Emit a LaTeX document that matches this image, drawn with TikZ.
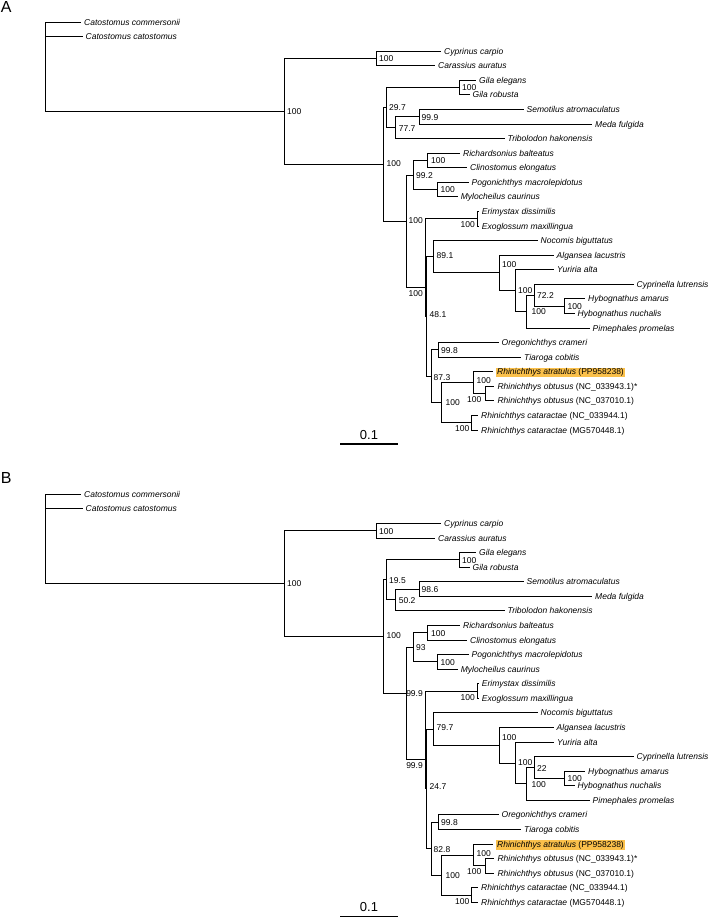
\documentclass[tikz,border=0pt]{standalone}
\usepackage{fontspec}
\setmainfont{Liberation Sans}
\definecolor{hl}{RGB}{250,192,75}
\tikzset{
  br/.style={line width=0.9pt, black},
  taxon/.style={anchor=base west, inner sep=0pt, xshift=3pt, yshift=-3.1pt, font=\fontsize{8.5}{10}\selectfont\itshape},
  hltaxon/.style={taxon, fill=hl, inner xsep=1pt, inner ysep=0.8pt, text height=6.4pt, text depth=1.8pt, xshift=-0.3pt},
  bsl/.style={anchor=west, inner sep=0pt, font=\fontsize{8.5}{10}\selectfont},
  bsr/.style={anchor=east, inner sep=0pt, font=\fontsize{8.5}{10}\selectfont},
  scalelab/.style={anchor=base, inner sep=0pt, font=\fontsize{13}{15}\selectfont},
  panel/.style={anchor=base west, inner sep=0pt, font=\fontsize{16}{18}\selectfont},
}
\newcommand\fishtree{%
  % internal nodes
  \coordinate (r0) at (45.7,66);
  \coordinate (n1) at (284,111.44);
  \coordinate (n2) at (376,58.43);
  \coordinate (n3) at (383.3,164.45);
  \coordinate (n4) at (386.7,107.6);
  \coordinate (g) at (459,87.57);
  \coordinate (n77) at (395.7,127.64);
  \coordinate (n999) at (419.3,116.71);
  \coordinate (n5) at (406.7,221.3);
  \coordinate (n992) at (413.3,175.0);
  \coordinate (rc) at (427.7,160.43);
  \coordinate (pm) at (437.3,189.57);
  \coordinate (n6) at (425,287);
  \coordinate (e) at (477.7,218.71);
  \coordinate (w) at (426.7,316.5);
  \coordinate (n89) at (433.3,256.74);
  \coordinate (r) at (499.3,272.9);
  \coordinate (q) at (515,290.66);
  \coordinate (p) at (526.7,311.61);
  \coordinate (n72) at (534.3,295.21);
  \coordinate (hy) at (564.3,306.14);
  \coordinate (n87) at (431.7,376.27);
  \coordinate (n998) at (438.3,349.86);
  \coordinate (s) at (441.7,402.68);
  \coordinate (t) at (473.3,382.64);
  \coordinate (v) at (485,393.57);
  \coordinate (u) at (471.7,422.71);
  % tip ends
  \coordinate (e1) at (81,22.0);
  \coordinate (e2) at (82.5,36.57);
  \coordinate (e3) at (441,51.14);
  \coordinate (e4) at (435,65.71);
  \coordinate (e5) at (476,80.29);
  \coordinate (e6) at (469.5,94.86);
  \coordinate (e7) at (523.5,109.43);
  \coordinate (e8) at (592,124.0);
  \coordinate (e9) at (504.5,138.57);
  \coordinate (e10) at (460,153.14);
  \coordinate (e11) at (467,167.71);
  \coordinate (e12) at (468.5,182.29);
  \coordinate (e13) at (457.7,196.86);
  \coordinate (e14) at (478.7,211.43);
  \coordinate (e15) at (478.7,226.0);
  \coordinate (e16) at (537.5,240.57);
  \coordinate (e17) at (553.5,255.14);
  \coordinate (e18) at (554,269.71);
  \coordinate (e19) at (633.5,284.29);
  \coordinate (e20) at (585,298.86);
  \coordinate (e21) at (574.5,313.43);
  \coordinate (e22) at (589.5,328.0);
  \coordinate (e23) at (498.5,342.57);
  \coordinate (e24) at (521,357.14);
  \coordinate (e25) at (493.3,371.71);
  \coordinate (e26) at (494.3,386.29);
  \coordinate (e27) at (494.3,400.86);
  \coordinate (e28) at (478,415.43);
  \coordinate (e29) at (478,430.0);
  % branches
  \draw[br] (r0) |- (e1); \draw[br] (r0) |- (e2); \draw[br] (r0) |- (n1);
  \draw[br] (n1) |- (n2); \draw[br] (n1) |- (n3);
  \draw[br] (n2) |- (e3); \draw[br] (n2) |- (e4);
  \draw[br] (n3) |- (n4); \draw[br] (n3) |- (n5);
  \draw[br] (n4) |- (g); \draw[br] (n4) |- (n77);
  \draw[br] (g) |- (e5); \draw[br] (g) |- (e6);
  \draw[br] (n77) |- (n999); \draw[br] (n77) |- (e9);
  \draw[br] (n999) |- (e7); \draw[br] (n999) |- (e8);
  \draw[br] (n5) |- (n992); \draw[br] (n5) |- (n6);
  \draw[br] (n992) |- (rc); \draw[br] (n992) |- (pm);
  \draw[br] (rc) |- (e10); \draw[br] (rc) |- (e11);
  \draw[br] (pm) |- (e12); \draw[br] (pm) |- (e13);
  \draw[br] (n6) |- (e); \draw[br] (n6) |- (w);
  \draw[br] (e) |- (e14); \draw[br] (e) |- (e15);
  \draw[br] (w) |- (n89); \draw[br] (w) |- (n87);
  \draw[br] (n89) |- (e16); \draw[br] (n89) |- (r);
  \draw[br] (r) |- (e17); \draw[br] (r) |- (q);
  \draw[br] (q) |- (e18); \draw[br] (q) |- (p);
  \draw[br] (p) |- (n72); \draw[br] (p) |- (e22);
  \draw[br] (n72) |- (e19); \draw[br] (n72) |- (hy);
  \draw[br] (hy) |- (e20); \draw[br] (hy) |- (e21);
  \draw[br] (n87) |- (n998); \draw[br] (n87) |- (s);
  \draw[br] (n998) |- (e23); \draw[br] (n998) |- (e24);
  \draw[br] (s) |- (t); \draw[br] (s) |- (u);
  \draw[br] (t) |- (e25); \draw[br] (t) |- (v);
  \draw[br] (v) |- (e26); \draw[br] (v) |- (e27);
  \draw[br] (u) |- (e28); \draw[br] (u) |- (e29);
  % taxa
  \node[taxon] (t1) at (e1) {Catostomus commersonii};
  \node[taxon] (t2) at (e2) {Catostomus catostomus};
  \node[taxon] (t3) at (e3) {Cyprinus carpio};
  \node[taxon] (t4) at (e4) {Carassius auratus};
  \node[taxon] (t5) at (e5) {Gila elegans};
  \node[taxon] (t6) at (e6) {Gila robusta};
  \node[taxon] (t7) at (e7) {Semotilus atromaculatus};
  \node[taxon] (t8) at (e8) {Meda fulgida};
  \node[taxon] (t9) at (e9) {Tribolodon hakonensis};
  \node[taxon] (t10) at (e10) {Richardsonius balteatus};
  \node[taxon] (t11) at (e11) {Clinostomus elongatus};
  \node[taxon] (t12) at (e12) {Pogonichthys macrolepidotus};
  \node[taxon] (t13) at (e13) {Mylocheilus caurinus};
  \node[taxon] (t14) at (e14) {Erimystax dissimilis};
  \node[taxon] (t15) at (e15) {Exoglossum maxillingua};
  \node[taxon] (t16) at (e16) {Nocomis biguttatus};
  \node[taxon] (t17) at (e17) {Algansea lacustris};
  \node[taxon] (t18) at (e18) {Yuriria alta};
  \node[taxon] (t19) at (e19) {Cyprinella lutrensis};
  \node[taxon] (t20) at (e20) {Hybognathus amarus};
  \node[taxon] (t21) at (e21) {Hybognathus nuchalis};
  \node[taxon] (t22) at (e22) {Pimephales promelas};
  \node[taxon] (t23) at (e23) {Oregonichthys crameri};
  \node[taxon] (t24) at (e24) {Tiaroga cobitis};
  \node[hltaxon] (t25) at (e25) {Rhinichthys atratulus \textup{(PP958238)}};
  \node[taxon] (t26) at (e26) {Rhinichthys obtusus \textup{(NC\_033943.1)*}};
  \node[taxon] (t27) at (e27) {Rhinichthys obtusus \textup{(NC\_037010.1)}};
  \node[taxon] (t28) at (e28) {Rhinichthys cataractae \textup{(NC\_033944.1)}};
  \node[taxon] (t29) at (e29) {Rhinichthys cataractae \textup{(MG570448.1)}};
  % support values
  \node[bsl] (l1) at (287,111.4) {100};
  \node[bsl] (l2) at (379,59) {100};
  \node[bsl] (l3) at (386.5,163.5) {100};
  \node[bsl] (l4) at (389,108) {\svFour};
  \node[bsl] (lg) at (462,88) {100};
  \node[bsl] (l77) at (398.7,128.5) {\svSeven};
  \node[bsl] (l999) at (421.5,117.5) {\svNine};
  \node[bsr] (l5) at (423,221) {\svFive};
  \node[bsl] (l992) at (416,175.5) {\svTwo};
  \node[bsl] (lrc) at (431,161) {100};
  \node[bsl] (lpm) at (440.5,190) {100};
  \node[bsr] (l6) at (423,293.5) {\svSix};
  \node[bsr] (le) at (475,225) {100};
  \node[bsl] (lw) at (429.5,314.5) {\svW};
  \node[bsl] (l89) at (436.5,255.5) {\svEight};
  \node[bsl] (lr) at (502,265) {100};
  \node[bsl] (lq) at (518,290.5) {100};
  \node[bsl] (lp) at (531.5,312) {100};
  \node[bsl] (l72) at (537,296) {\svSeventy};
  \node[bsl] (lhy) at (567.5,306.5) {100};
  \node[bsl] (l87) at (433.5,377.5) {\svEightySeven};
  \node[bsl] (l998) at (441,350.5) {99.8};
  \node[bsl] (ls) at (445.5,403) {100};
  \node[bsl] (lt) at (476.5,381) {100};
  \node[bsr] (lv) at (481.5,399.5) {100};
  \node[bsr] (lu) at (469.5,429) {100};
  % scale bar
  \coordinate (sb1) at (340,444);
  \coordinate (sb2) at (398,444);
  \draw[line width=1.1pt] (sb1) -- (sb2);
  \node[scalelab] (sbl) at (369,439.3) {0.1};
}
\newcommand\svFour{29.7}
\newcommand\svSeven{77.7}
\newcommand\svNine{99.9}
\newcommand\svFive{100}
\newcommand\svTwo{99.2}
\newcommand\svSix{100}
\newcommand\svW{48.1}
\newcommand\svEight{89.1}
\newcommand\svSeventy{72.2}
\newcommand\svEightySeven{87.3}
\begin{document}
\begin{tikzpicture}[x=1pt,y=-1pt]
  \fill[white] (0,0) rectangle (708,917);
  \useasboundingbox (0,0) rectangle (708,917);
  \node[panel] (pA) at (0.8,13) {A};
  \node[panel] (pB) at (0.8,483.5) {B};
  \begin{scope}[name prefix=A-]
    \fishtree
  \end{scope}
  \renewcommand\svFour{19.5}
  \renewcommand\svSeven{50.2}
  \renewcommand\svNine{98.6}
  \renewcommand\svFive{99.9}
  \renewcommand\svTwo{93}
  \renewcommand\svSix{99.9}
  \renewcommand\svW{24.7}
  \renewcommand\svEight{79.7}
  \renewcommand\svSeventy{22}
  \renewcommand\svEightySeven{82.8}
  \begin{scope}[yshift=-472.3pt, name prefix=B-]
    \fishtree
  \end{scope}
\end{tikzpicture}
\end{document}
